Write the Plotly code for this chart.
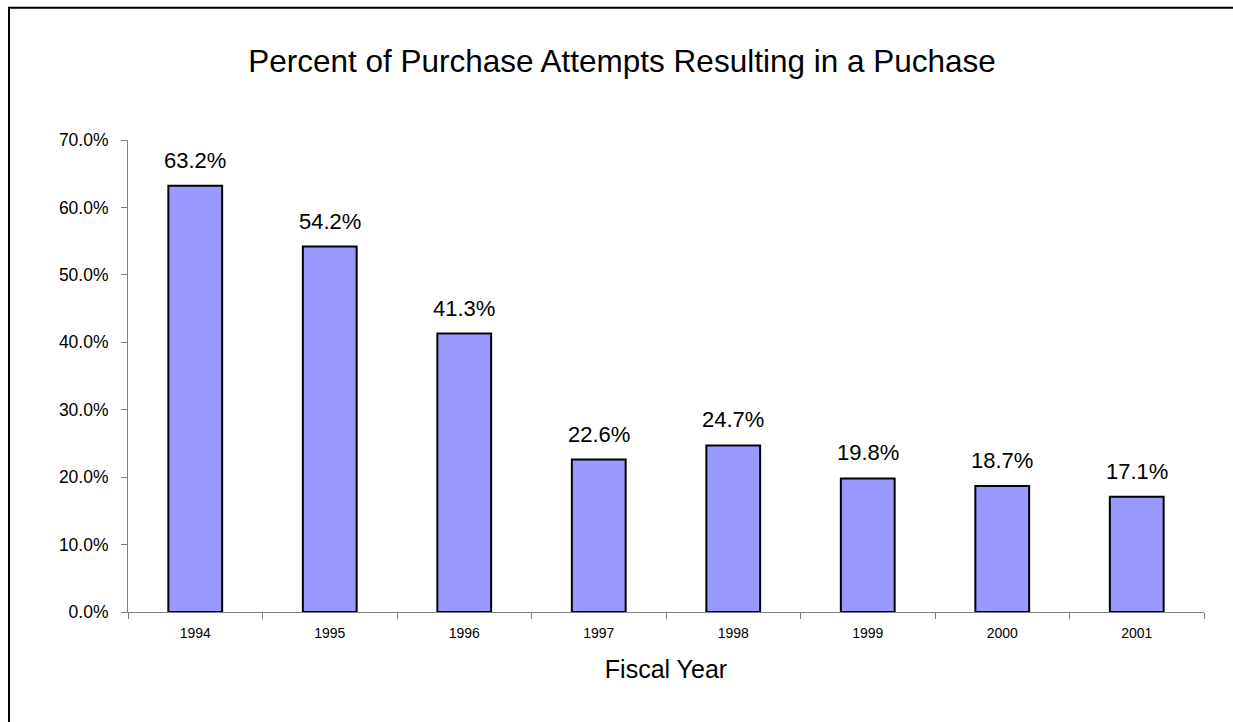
import plotly.graph_objects as go

# Fiscal years and share of purchase attempts that ended in a purchase (%)
years = ["1994", "1995", "1996", "1997", "1998", "1999", "2000", "2001"]
pct_purchase = [63.2, 54.2, 41.3, 22.6, 24.7, 19.8, 18.7, 17.1]
y_ticks = [0, 10, 20, 30, 40, 50, 60, 70]
y_tick_labels = [f"{v:.1f}%" for v in y_ticks]

FONT = "Liberation Sans, Arial, sans-serif"
W, H = 1233, 722
ML, MR, MT, MB = 128, 29, 140, 110
PW, PH = W - ML - MR, H - MT - MB


def px_to_paper_x(px):
    return (px - ML) / PW


def px_to_paper_y(py):
    return (H - MB - py) / PH


fig = go.Figure()
fig.add_trace(go.Bar(
    x=years,
    y=pct_purchase,
    marker=dict(color="#9999FF", line=dict(color="black", width=2)),
    hoverinfo="skip",
))

# value labels above each bar (category axis: annotation x is the category index)
for i, v in enumerate(pct_purchase):
    fig.add_annotation(
        x=i, y=v, text=f"{v:.1f}%", showarrow=False,
        yanchor="bottom", yshift=11,
        font=dict(family=FONT, size=22, color="black"),
    )

# chart frame: top and left edges (the others run off the page)
frame = dict(color="black", width=2)
fig.add_shape(type="line", xref="paper", yref="paper",
              x0=px_to_paper_x(8), x1=px_to_paper_x(1240),
              y0=px_to_paper_y(7.7), y1=px_to_paper_y(7.7),
              line=frame, layer="above")
fig.add_shape(type="line", xref="paper", yref="paper",
              x0=px_to_paper_x(9), x1=px_to_paper_x(9),
              y0=px_to_paper_y(7), y1=px_to_paper_y(730),
              line=frame, layer="above")

fig.update_layout(
    width=W, height=H,
    margin=dict(l=ML, r=MR, t=MT, b=MB, pad=0),
    paper_bgcolor="white", plot_bgcolor="white",
    bargap=0.6,
    showlegend=False,
    title=dict(
        text="Percent of Purchase Attempts Resulting in a Puchase",
        x=622 / W, xanchor="center",
        y=1 - 61 / H, yanchor="middle",
        font=dict(family=FONT, size=31.5, color="black"),
    ),
    xaxis=dict(
        type="category",
        range=[-0.5, len(years) - 0.5],
        showline=True, linecolor="#808080", linewidth=1,
        ticks="outside", tickson="boundaries", ticklen=6,
        tickcolor="#808080", tickwidth=1,
        tickangle=0, ticklabelstandoff=8,
        showgrid=False, zeroline=False,
        tickfont=dict(family=FONT, size=14, color="black"),
        title=dict(text="Fiscal Year", standoff=20,
                   font=dict(family=FONT, size=25, color="black")),
    ),
    yaxis=dict(
        range=[0, 70],
        tickvals=y_ticks, ticktext=y_tick_labels,
        showline=True, linecolor="#808080", linewidth=1,
        ticks="outside", ticklen=6, tickcolor="#808080", tickwidth=1,
        ticklabelstandoff=9,
        showgrid=False, zeroline=False,
        tickfont=dict(family=FONT, size=17.5, color="black"),
    ),
)

fig.write_html("out.html")
